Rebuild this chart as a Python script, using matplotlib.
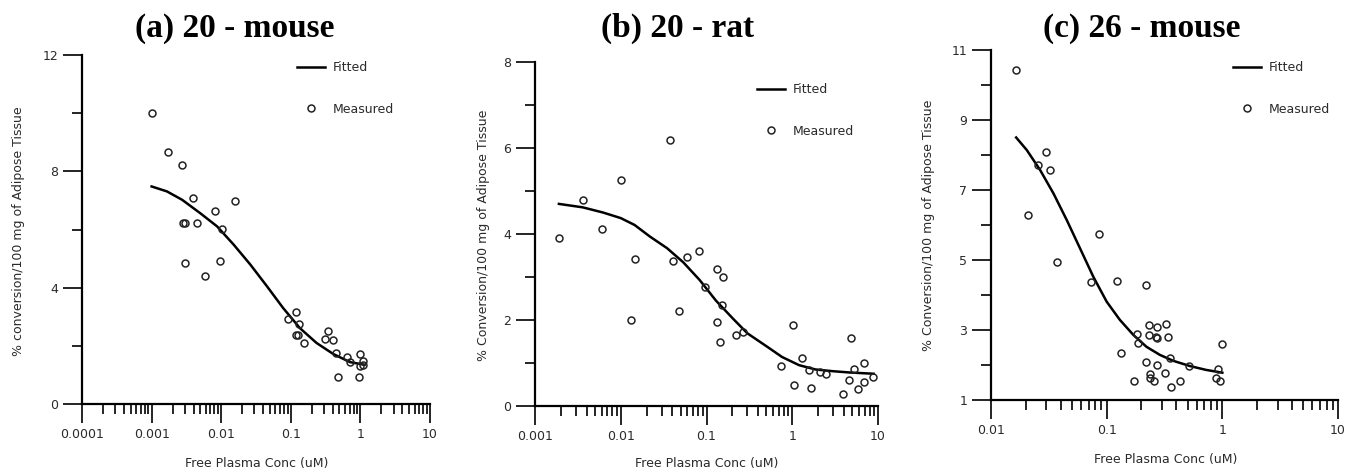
import matplotlib.pyplot as plt
from matplotlib.ticker import LogLocator, FixedLocator, FuncFormatter

# (a) 20 - mouse
a_meas_x = [0.001, 0.0017, 0.0027, 0.0039, 0.0028, 0.0030, 0.0045, 0.0030, 0.0059, 0.0082,
            0.0102, 0.0095, 0.0156, 0.091, 0.12, 0.13, 0.117, 0.125, 0.157, 0.34,
            0.31, 0.40, 0.45, 0.48, 0.64, 0.71, 0.95, 1.0, 0.98, 1.1, 1.1]
a_meas_y = [10.02, 8.65, 8.22, 7.10, 6.22, 6.22, 6.21, 4.86, 4.39, 6.62,
            6.03, 4.93, 6.99, 2.92, 3.18, 2.75, 2.37, 2.37, 2.10, 2.50,
            2.23, 2.21, 1.75, 0.94, 1.60, 1.43, 0.94, 1.73, 1.29, 1.47, 1.35]
a_fit_x = [0.001, 0.00166, 0.00275, 0.0050, 0.0087, 0.0151, 0.0263, 0.0457, 0.0776, 0.135,
           0.234, 0.407, 0.708, 1.15]
a_fit_y = [7.48, 7.31, 7.02, 6.56, 6.11, 5.48, 4.79, 4.04, 3.30, 2.61,
           2.10, 1.72, 1.44, 1.35]

# (b) 20 - rat
b_meas_x = [0.0019, 0.0036, 0.006, 0.01, 0.0133, 0.0146, 0.038, 0.041, 0.048, 0.060,
            0.081, 0.096, 0.131, 0.154, 0.131, 0.153, 0.144, 0.22, 0.27, 0.73,
            1.03, 1.04, 1.31, 1.57, 1.67, 2.1, 2.5, 3.9, 4.6, 4.8,
            5.2, 5.8, 6.9, 6.8, 8.8]
b_meas_y = [3.90, 4.79, 4.11, 5.25, 2.01, 3.43, 6.18, 3.38, 2.21, 3.46,
            3.60, 2.76, 3.18, 3.01, 1.95, 2.36, 1.48, 1.65, 1.71, 0.92,
            1.88, 0.50, 1.12, 0.83, 0.43, 0.78, 0.74, 0.27, 0.60, 1.58,
            0.85, 0.40, 0.99, 0.55, 0.68]
b_fit_x = [0.0019, 0.0036, 0.0062, 0.01, 0.0145, 0.0219, 0.0347, 0.0537, 0.0832, 0.129,
           0.204, 0.30, 0.50, 0.76, 1.2, 1.86, 2.95, 4.6, 8.9]
b_fit_y = [4.70, 4.62, 4.50, 4.37, 4.21, 3.94, 3.67, 3.34, 2.93, 2.45,
           2.03, 1.69, 1.39, 1.14, 0.95, 0.85, 0.81, 0.78, 0.75]

# (c) 26 - mouse
c_meas_x = [0.0165, 0.021, 0.0254, 0.0296, 0.0323, 0.037, 0.073, 0.086, 0.123, 0.134,
            0.172, 0.184, 0.186, 0.217, 0.22, 0.233, 0.232, 0.238, 0.236, 0.256,
            0.27, 0.266, 0.27, 0.27, 0.318, 0.325, 0.34, 0.356, 0.36, 0.43,
            0.52, 0.88, 0.91, 0.96, 1.0]
c_meas_y = [10.43, 6.29, 7.71, 8.09, 7.58, 4.94, 4.38, 5.73, 4.40, 2.34,
            1.55, 2.88, 2.62, 4.30, 2.08, 3.14, 2.86, 1.74, 1.64, 1.53,
            3.10, 2.81, 2.78, 2.00, 1.78, 3.18, 2.81, 2.19, 1.36, 1.55,
            1.97, 1.64, 1.90, 1.55, 2.59]
c_fit_x = [0.0165, 0.0204, 0.0266, 0.0347, 0.0452, 0.0589, 0.0767, 0.10, 0.130, 0.170,
           0.221, 0.288, 0.376, 0.525, 0.724, 1.0]
c_fit_y = [8.50, 8.14, 7.57, 6.90, 6.14, 5.33, 4.52, 3.81, 3.29, 2.86,
           2.52, 2.29, 2.12, 1.97, 1.86, 1.78]

panels = [
    dict(title='(a) 20 - mouse', mx=a_meas_x, my=a_meas_y, fx=a_fit_x, fy=a_fit_y,
         xlim=(0.0001, 10), ylim=(0, 12), major=[0, 4, 8, 12], minor=[2, 6, 10],
         ylabel='% conversion/100 mg of Adipose Tissue',
         pos=[82, 55, 430, 404], title_xy=(235, 28), xl_xy=(257, 463), yl_xy=(19, 231),
         leg=(297, 61)),
    dict(title='(b) 20 - rat', mx=b_meas_x, my=b_meas_y, fx=b_fit_x, fy=b_fit_y,
         xlim=(0.001, 10), ylim=(0, 8), major=[0, 2, 4, 6, 8], minor=[1, 3, 5, 7],
         ylabel='% Conversion/100 mg of Adipose Tissue',
         pos=[535, 62, 878, 406], title_xy=(678, 28), xl_xy=(707, 463), yl_xy=(484, 235),
         leg=(757, 83)),
    dict(title='(c) 26 - mouse', mx=c_meas_x, my=c_meas_y, fx=c_fit_x, fy=c_fit_y,
         xlim=(0.01, 10), ylim=(1, 11), major=[1, 3, 5, 7, 9, 11], minor=[2, 4, 6, 8, 10],
         ylabel='% Conversion/100 mg of Adipose Tissue',
         pos=[991, 50, 1338, 400], title_xy=(1142, 28), xl_xy=(1166, 459), yl_xy=(929, 225),
         leg=(1233, 61)),
]

W, H = 1349, 470
fig = plt.figure(figsize=(W / 100, H / 100), dpi=100)
txt = '#2a2a2a'

for p in panels:
    l, t, r, b = p['pos']
    ax = fig.add_axes([l / W, 1 - b / H, (r - l) / W, (b - t) / H])
    ax.set_xscale('log')
    ax.plot(p['fx'], p['fy'], color='black', lw=1.8, label='Fitted', clip_on=False)
    ax.plot(p['mx'], p['my'], 'o', ms=5, mfc='none', mec='#222222', mew=1.1,
            label='Measured', clip_on=False)
    ax.set_xlim(*p['xlim'])
    ax.set_ylim(*p['ylim'])

    for s in ['top', 'right']:
        ax.spines[s].set_visible(False)
    for s in ['left', 'bottom']:
        ax.spines[s].set_linewidth(1.6)

    ax.yaxis.set_major_locator(FixedLocator(p['major']))
    ax.yaxis.set_minor_locator(FixedLocator(p['minor']))
    ax.xaxis.set_major_locator(LogLocator(base=10))
    ax.xaxis.set_minor_locator(LogLocator(base=10, subs=range(2, 10)))
    ax.xaxis.set_major_formatter(FuncFormatter(lambda v, pos: '{:g}'.format(v)))
    ax.xaxis.set_minor_formatter(FuncFormatter(lambda v, pos: ''))
    ax.tick_params(which='major', direction='out', length=14, width=1.2, labelsize=9,
                   labelcolor=txt, pad=3)
    ax.tick_params(which='minor', direction='out', length=7, width=1.2)

    fig.text(p['title_xy'][0] / W, 1 - p['title_xy'][1] / H, p['title'],
             family='Liberation Serif', weight='bold', fontsize=24,
             ha='center', va='center')
    fig.text(p['xl_xy'][0] / W, 1 - p['xl_xy'][1] / H, 'Free Plasma Conc (uM)',
             fontsize=9, color=txt, ha='center', va='center')
    fig.text(p['yl_xy'][0] / W, 1 - p['yl_xy'][1] / H, p['ylabel'],
             fontsize=9, color=txt, ha='center', va='center', rotation=90)

    ax.legend(loc='upper left', bbox_to_anchor=(p['leg'][0] / W, 1 - p['leg'][1] / H),
              bbox_transform=fig.transFigure, frameon=False, fontsize=9,
              labelcolor=txt, borderpad=0, borderaxespad=0, handlelength=2.25,
              handletextpad=0.65, labelspacing=2.3)

fig.savefig('out.png', dpi=100)
